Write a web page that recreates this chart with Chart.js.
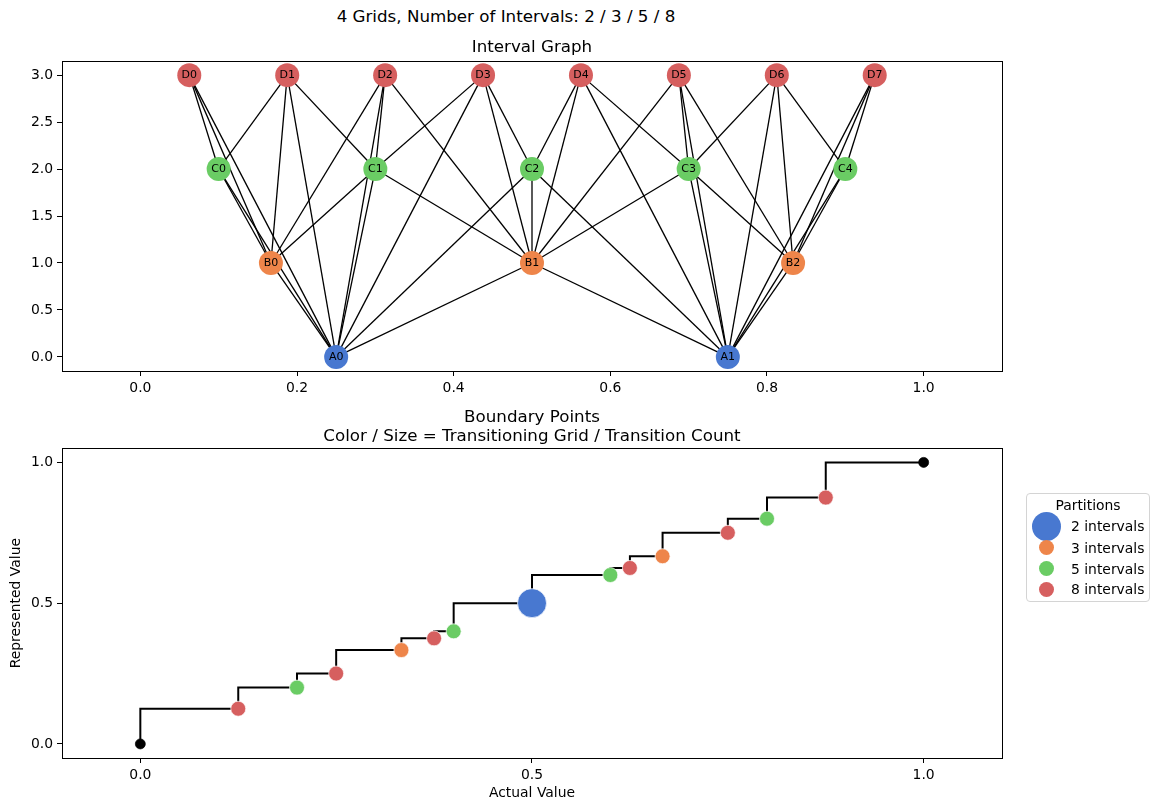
<!DOCTYPE html>
<html>
<head>
<meta charset="utf-8">
<script src="https://cdn.jsdelivr.net/npm/chart.js@4.4.1/dist/chart.umd.min.js"></script>
<style>
    body { margin: 0; background: #fff; font-family: 'DejaVu Sans', sans-serif; }
    #page { position: relative; width: 1158px; height: 811px; overflow: hidden; }
    .box { position: absolute; left: 0; width: 1158px; }
    #suptitle { position: absolute; left: 0; top: 6px; width: 1012px; text-align: center; font-size: 16.7px; line-height: 20px; color: #000; }
    #legend { position: absolute; left: 1026px; top: 493px; width: 122px; height: 107px; border: 1px solid #d4d4d4; border-radius: 4px; font-size: 13.9px; color: #000; }
    #legend .ttl { position: absolute; left: 0; width: 100%; top: 1px; text-align: center; line-height: 20px; }
    #legend .dot { position: absolute; border-radius: 50%; }
    #legend .lbl { position: absolute; left: 44px; line-height: 18px; white-space: nowrap; }
</style>
</head>
<body>
<div id="page">
    <div id="suptitle">4 Grids, Number of Intervals: 2 / 3 / 5 / 8</div>
    <div class="box" style="top:0;height:400px"><canvas id="graphChart"></canvas></div>
    <div class="box" style="top:400px;height:411px"><canvas id="boundaryChart"></canvas></div>
    <div id="legend"><div class="ttl">Partitions</div></div>
</div>
<script>
// Node centres of each grid (x), one row per grid
const gridA = [0.25, 0.75];
const gridB = [0.1667, 0.5, 0.8333];
const gridC = [0.1, 0.3, 0.5, 0.7, 0.9];
const gridD = [0.0625, 0.1875, 0.3125, 0.4375, 0.5625, 0.6875, 0.8125, 0.9375];
const gridRows = [0, 1, 2, 3];
const gridLetters = ['A', 'B', 'C', 'D'];
const gridIntervals = [2, 3, 5, 8];

// Overlapping intervals between grids
const edges = {
    A0: ['B0', 'B1', 'C0', 'C1', 'C2', 'D0', 'D1', 'D2', 'D3'],
    A1: ['B1', 'B2', 'C2', 'C3', 'C4', 'D4', 'D5', 'D6', 'D7'],
    B0: ['C0', 'C1', 'D0', 'D1', 'D2'],
    B1: ['C1', 'C2', 'C3', 'D2', 'D3', 'D4', 'D5'],
    B2: ['C3', 'C4', 'D5', 'D6', 'D7'],
    C0: ['D0', 'D1'],
    C1: ['D1', 'D2', 'D3'],
    C2: ['D3', 'D4'],
    C3: ['D4', 'D5', 'D6'],
    C4: ['D6', 'D7']
};

// Boundary points (bottom panel)
const boundaryX = [0, 0.125, 0.2, 0.25, 0.3333, 0.375, 0.4, 0.5, 0.6, 0.625, 0.6667, 0.75, 0.8, 0.875, 1];
const representedY = [0, 0.125, 0.2, 0.25, 0.3333, 0.375, 0.4, 0.5, 0.6, 0.625, 0.6667, 0.75, 0.8, 0.875, 1];
const transitionGrid = [0, 8, 5, 8, 3, 8, 5, 2, 5, 8, 3, 8, 5, 8, 0];
const transitionCount = [0, 1, 1, 1, 1, 1, 1, 2, 1, 1, 1, 1, 1, 1, 0];

// Tick labels
const graphXTicks = [0, 0.2, 0.4, 0.6, 0.8, 1.0];
const graphYTicks = [0, 0.5, 1.0, 1.5, 2.0, 2.5, 3.0];
const boundaryTicks = [0, 0.5, 1.0];

const legendLabels = ['2 intervals', '3 intervals', '5 intervals', '8 intervals'];

const gridColors = { 2: '#4878d0', 3: '#ee854a', 5: '#6acc64', 8: '#d65f5f' };
const sizeByCount = { 0: 5, 1: 7.5, 2: 14.5 };

Chart.defaults.font.family = "'DejaVu Sans', sans-serif";
Chart.defaults.font.size = 13.9;
Chart.defaults.color = '#000';

// black frame round the plot area, like matplotlib spines
const framePlugin = {
    id: 'frame',
    afterDraw(chart) {
        const a = chart.chartArea, ctx = chart.ctx;
        ctx.save();
        ctx.strokeStyle = '#000';
        ctx.lineWidth = 1;
        ctx.strokeRect(Math.round(a.left) + 0.5, Math.round(a.top) + 0.5,
            Math.round(a.right - a.left), Math.round(a.bottom - a.top));
        ctx.restore();
    }
};

// text inside the graph nodes
const nodeLabelPlugin = {
    id: 'nodeLabels',
    afterDatasetsDraw(chart) {
        const ctx = chart.ctx;
        ctx.save();
        ctx.font = "11px 'DejaVu Sans', sans-serif";
        ctx.fillStyle = '#000';
        ctx.textAlign = 'center';
        ctx.textBaseline = 'middle';
        chart.data.datasets.forEach((ds, i) => {
            if (!ds.nodeLabels) return;
            chart.getDatasetMeta(i).data.forEach((pt, j) => {
                ctx.fillText(ds.nodeLabels[j], pt.x, pt.y + 0.5);
            });
        });
        ctx.restore();
    }
};

function axis(ticks, min, max, extra) {
    return Object.assign({
        type: 'linear',
        min: min,
        max: max,
        afterBuildTicks: s => { s.ticks = ticks.map(v => ({ value: v })); },
        ticks: { padding: 4, callback: v => v.toFixed(1), maxRotation: 0, autoSkip: false },
        grid: { drawOnChartArea: false, drawTicks: true, tickLength: 5, color: '#000', tickColor: '#000' },
        border: { display: false }
    }, extra);
}

// ---- Interval graph ----
const grids = [gridA, gridB, gridC, gridD];
const nodePos = {};
const nodeSets = grids.map((xs, g) => {
    const names = xs.map((x, i) => gridLetters[g] + i);
    xs.forEach((x, i) => { nodePos[names[i]] = { x: x, y: gridRows[g] }; });
    return {
        data: xs.map(x => ({ x: x, y: gridRows[g] })),
        nodeLabels: names,
        backgroundColor: gridColors[gridIntervals[g]],
        borderWidth: 0,
        pointRadius: 12,
        order: 0
    };
});

const edgeSets = [];
Object.keys(edges).forEach(from => {
    edges[from].forEach(to => {
        edgeSets.push({
            data: [nodePos[from], nodePos[to]],
            showLine: true,
            borderColor: '#000',
            borderWidth: 1.3,
            pointRadius: 0,
            order: 1
        });
    });
});

new Chart(document.getElementById('graphChart'), {
    type: 'scatter',
    data: { datasets: nodeSets.concat(edgeSets) },
    options: {
        responsive: true,
        maintainAspectRatio: false,
        animation: false,
        events: [],
        layout: { padding: { left: 0, right: 156, top: 38, bottom: 0 } },
        plugins: {
            legend: { display: false },
            tooltip: { enabled: false },
            title: {
                display: true, text: 'Interval Graph', fullSize: false,
                font: { size: 16.7, weight: 'normal', lineHeight: 1.2 },
                padding: { top: 0, bottom: 3 }
            }
        },
        scales: {
            x: axis(graphXTicks, -0.1, 1.1, { afterFit: s => { s.height = 29; } }),
            y: axis(graphYTicks, -0.15, 3.15, { afterFit: s => { s.width = 62; } })
        }
    },
    plugins: [framePlugin, nodeLabelPlugin]
});

// ---- Boundary points ----
const boundaryPoints = boundaryX.map((x, i) => ({ x: x, y: representedY[i] }));

new Chart(document.getElementById('boundaryChart'), {
    type: 'scatter',
    data: {
        datasets: [{
            data: boundaryPoints,
            backgroundColor: transitionGrid.map(g => gridColors[g] || '#000'),
            borderColor: transitionGrid.map(g => g ? '#fff' : '#000'),
            borderWidth: 0.7,
            pointRadius: transitionCount.map(c => sizeByCount[c]),
            order: 0
        }, {
            data: boundaryPoints,
            showLine: true,
            stepped: 'after',
            borderColor: '#000',
            borderWidth: 2,
            pointRadius: 0,
            order: 1
        }]
    },
    options: {
        responsive: true,
        maintainAspectRatio: false,
        animation: false,
        events: [],
        layout: { padding: { left: 0, right: 156, top: 7.7, bottom: 0 } },
        plugins: {
            legend: { display: false },
            tooltip: { enabled: false },
            title: {
                display: true, fullSize: false,
                text: ['Boundary Points', 'Color / Size = Transitioning Grid / Transition Count'],
                font: { size: 16.7, weight: 'normal', lineHeight: 1.15 },
                padding: { top: 0, bottom: 2.2 }
            }
        },
        scales: {
            x: axis(boundaryTicks, -0.1, 1.1, {
                afterFit: s => { s.height = 53; },
                title: { display: true, text: 'Actual Value', padding: { top: 0, bottom: 9.7 } }
            }),
            y: axis(boundaryTicks, -0.05, 1.05, {
                afterFit: s => { s.width = 62; },
                title: { display: true, text: 'Represented Value', padding: { top: 7.7, bottom: 0 } }
            })
        }
    },
    plugins: [framePlugin]
});

// ---- Legend ----
const legendBox = document.getElementById('legend');
const rowCentres = [32.3, 53.7, 74.7, 95.3];
legendLabels.forEach((label, i) => {
    const r = i === 0 ? sizeByCount[2] : sizeByCount[1];
    const dot = document.createElement('div');
    dot.className = 'dot';
    dot.style.background = gridColors[gridIntervals[i]];
    dot.style.width = dot.style.height = (2 * r) + 'px';
    dot.style.left = (19 - r) + 'px';
    dot.style.top = (rowCentres[i] - r) + 'px';
    legendBox.appendChild(dot);
    const txt = document.createElement('div');
    txt.className = 'lbl';
    txt.textContent = label;
    txt.style.top = (rowCentres[i] - 9) + 'px';
    legendBox.appendChild(txt);
});
</script>
</body>
</html>
